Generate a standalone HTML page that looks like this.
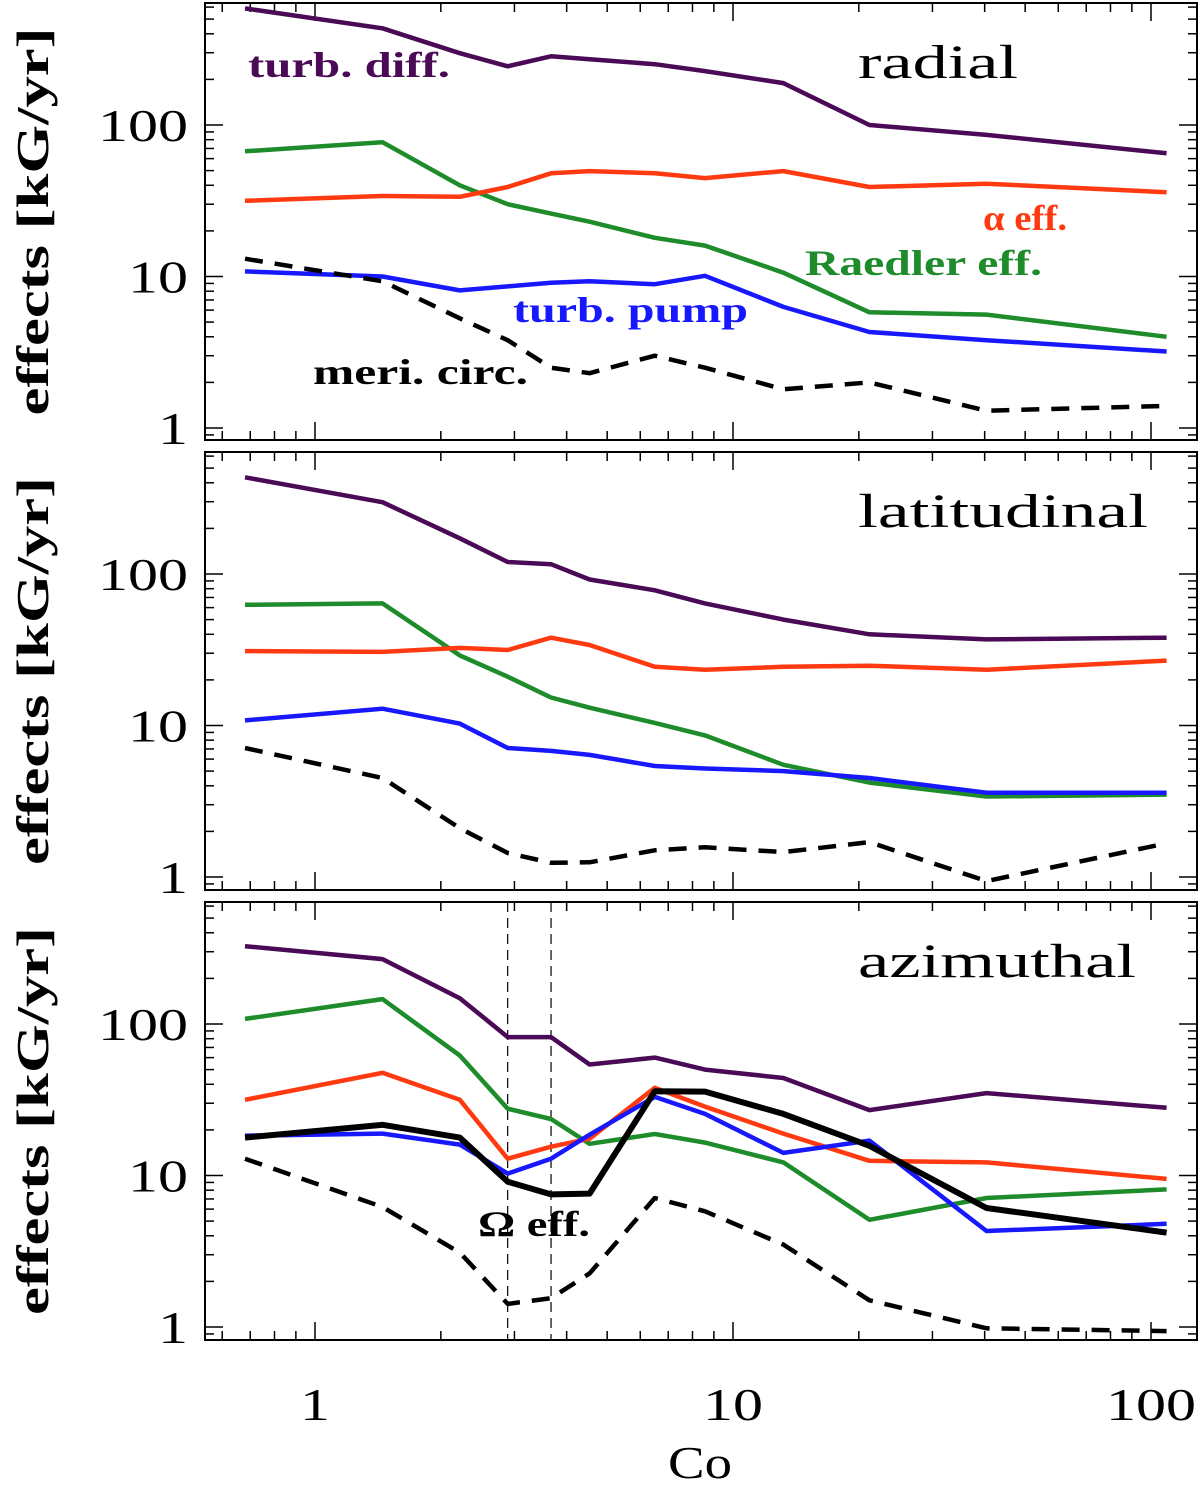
<!DOCTYPE html>
<html><head><meta charset="utf-8"><style>
body{margin:0;background:#fff}
svg text{font-family:"Liberation Serif","DejaVu Serif",serif}
</style></head><body>
<svg id="chart" width="1200" height="1483" xmlns="http://www.w3.org/2000/svg"></svg>
<script>
const co=[0.68,1.45,2.22,2.89,3.67,4.54,6.5,8.57,13.2,21.2,40.4,109];
const radialDiff=[588,435,298,244,284,272,252,227,189,100,86,65];
const radialRaedler=[67,77,40,30,26,23,18,16,10.6,5.8,5.6,4.0];
const radialAlpha=[31.6,34,33.6,39,48,49.6,48,44.6,49.6,39,41,36];
const radialPump=[10.8,10,8.1,8.6,9.1,9.3,8.9,10.1,6.3,4.3,3.8,3.2];
const radialMeri=[13.1,9.3,5.3,3.8,2.5,2.3,3.0,2.5,1.8,2.0,1.3,1.4];
const latDiff=[435,298,172,120,116,92,78,64,50,40,37,38];
const latRaedler=[62.6,64,29,21,15.3,13.1,10.4,8.6,5.5,4.2,3.4,3.5];
const latAlpha=[31,30.6,32.5,31.5,38,34,24.4,23.3,24.4,24.8,23.3,26.8];
const latPump=[10.8,12.9,10.3,7.1,6.8,6.4,5.4,5.2,5.0,4.5,3.6,3.6];
const latMeri=[7.1,4.5,2.1,1.44,1.24,1.25,1.5,1.57,1.46,1.7,0.94,1.67];
const aziDiff=[326,268,148,82,82,54,60,50,44,27,35,28];
const aziRaedler=[108,146,62,27.6,23.6,16.2,18.8,16.5,12.2,5.1,7.1,8.1];
const aziAlpha=[31.6,47.6,31.6,12.9,15.5,17.5,37.9,28.5,18.9,12.5,12.2,9.5];
const aziPump=[18.3,18.9,16,10.3,12.9,18.6,33,25.5,14.1,17,4.3,4.8];
const aziOmega=[17.8,21.6,17.8,9.1,7.5,7.6,36,35.8,25.5,15.7,6.1,4.2];
const aziMeri=[12.9,6.2,3.1,1.42,1.55,2.26,7.1,5.8,3.5,1.5,0.98,0.94];
const xTicks=[1,10,100];
const xTickLabels=["1","10","100"];
const yTicks=[1,10,100];
const yTickLabels=["1","10","100"];
const omegaLines=[2.89,3.67];

const svg=document.getElementById('chart');
const NS='http://www.w3.org/2000/svg';
function mk(tag,attrs,parent){const e=document.createElementNS(NS,tag);for(const k in attrs)e.setAttribute(k,attrs[k]);(parent||svg).appendChild(e);return e;}
const X0=205,X1=1197;
const xs=v=>315+418*Math.log10(v);
const C={purple:'#4a0a55',green:'#1e8c2a',red:'#ff3a10',blue:'#1818ff',black:'#000'};
const panels=[
 {top:3,bot:440,one:428,name:'radial',tl:160,series:[[radialDiff,C.purple,0],[radialRaedler,C.green,0],[radialAlpha,C.red,0],[radialPump,C.blue,0],[radialMeri,C.black,1]]},
 {top:452,bot:890,one:877,name:'latitudinal',tl:290,series:[[latDiff,C.purple,0],[latRaedler,C.green,0],[latAlpha,C.red,0],[latPump,C.blue,0],[latMeri,C.black,1]]},
 {top:902,bot:1340,one:1327,name:'azimuthal',tl:278,series:[[aziDiff,C.purple,0],[aziRaedler,C.green,0],[aziAlpha,C.red,0],[aziPump,C.blue,0],[aziMeri,C.black,1],[aziOmega,C.black,2]]}
];
const names=['turb-diff','raedler-eff','alpha-eff','turb-pump','meri-circ','omega-eff'];
panels.forEach((p,pi)=>{
 const ys=v=>p.one-151.5*Math.log10(v);
 const g=mk('g',{});
 
 
 for(let d=-1;d<=2;d++)for(let m=1;m<10;m++){const v=m*Math.pow(10,d);const x=xs(v);if(x<X0||x>X1)continue;const L=m==1?18:9;
  mk('line',{x1:x,x2:x,y1:p.bot,y2:p.bot-L,stroke:'#000','stroke-width':1.5},g);
  mk('line',{x1:x,x2:x,y1:p.top,y2:p.top+L,stroke:'#000','stroke-width':1.5},g);}
 for(let d=-1;d<=3;d++)for(let m=1;m<10;m++){const v=m*Math.pow(10,d);const y=ys(v);if(y<p.top||y>p.bot)continue;const L=m==1?18:9;
  mk('line',{x1:X0,x2:X0+L,y1:y,y2:y,stroke:'#000','stroke-width':1.5},g);
  mk('line',{x1:X1,x2:X1-L,y1:y,y2:y,stroke:'#000','stroke-width':1.5},g);}
 yTicks.forEach((v,i)=>{const w=30*yTickLabels[i].length;
  const t=mk('text',{x:188-w,y:ys(v)+16,'font-size':46,textLength:w,lengthAdjust:'spacingAndGlyphs'},g);t.textContent=yTickLabels[i];
  });
 const yl=mk('text',{x:0,y:0,transform:`translate(48,${(p.top+p.bot)/2}) rotate(-90)`,'text-anchor':'middle','font-size':46,'font-weight':'bold',textLength:388,lengthAdjust:'spacingAndGlyphs'},g);
 yl.textContent='effects [kG/yr]';
 
 if(pi==2){omegaLines.forEach(v=>{const l=mk('line',{x1:xs(v),x2:xs(v),y1:p.top,y2:p.bot,stroke:'#000','stroke-width':1.2,'stroke-dasharray':'10,6'},g);
  });}
 p.series.forEach((s,si)=>{
  const d=s[0].map((v,i)=>(i?'L':'M')+xs(co[i]).toFixed(1)+','+ys(v).toFixed(1)).join(' ');
  const a={d:d,fill:'none',stroke:s[1],'stroke-width':s[2]==2?6:4.5,'stroke-linejoin':'round'};
  if(s[2]==1)a['stroke-dasharray']='18,12';
  const l=mk('path',a,g);
  
  
 });
 mk('rect',{x:X0,y:p.top,width:X1-X0,height:p.bot-p.top,fill:'none',stroke:'#000','stroke-width':2},g);
 const tt=mk('text',{x:858,y:p.top+75,'font-size':48,textLength:p.tl,lengthAdjust:'spacingAndGlyphs'},g);tt.textContent=p.name;
 
});
xTicks.forEach((v,i)=>{const w=30*xTickLabels[i].length;
 const t=mk('text',{x:xs(v)-w/2,y:1420,'font-size':46,textLength:w,lengthAdjust:'spacingAndGlyphs'});t.textContent=xTickLabels[i];
 });
const xt=mk('text',{x:668,y:1478,'font-size':46,textLength:64,lengthAdjust:'spacingAndGlyphs'});xt.textContent='Co';

const ann=[['turb. diff.',248,77,C.purple,202],['α eff.',983,230,C.red,84],['Raedler eff.',805,275,C.green,237],['turb. pump',513,322,C.blue,235],['meri. circ.',313,384,C.black,215],['Ω eff.',478,1236,C.black,112]];
ann.forEach(a=>{const t=mk('text',{x:a[1],y:a[2],fill:a[3],'font-size':36,'font-weight':'bold',textLength:a[4],lengthAdjust:'spacingAndGlyphs'});t.textContent=a[0];
 });
</script>
</body></html>
